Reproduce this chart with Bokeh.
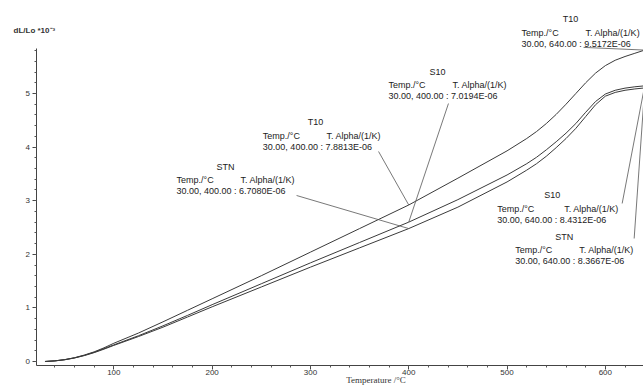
from bokeh.plotting import figure
from bokeh.models import Range1d, SingleIntervalTicker, Label, ColumnDataSource
from bokeh.core.properties import value
from bokeh.embed import file_html
from bokeh.resources import INLINE

# ---------------- data ----------------
temperature = [30, 40, 50, 60, 70, 80, 90, 100, 125, 150, 175, 200, 250, 300, 350, 400,
               450, 500, 520, 530, 540, 550, 560, 570, 580, 590, 600, 610, 620, 630, 640]
dl_T10 = [0.0, 0.012, 0.035, 0.07, 0.12, 0.18, 0.255, 0.34, 0.53, 0.74, 0.955, 1.17, 1.60,
          2.04, 2.48, 2.92, 3.42, 3.93, 4.16, 4.29, 4.44, 4.61, 4.80, 5.00, 5.20, 5.38,
          5.52, 5.62, 5.69, 5.75, 5.81]
dl_S10 = [0.0, 0.012, 0.034, 0.068, 0.115, 0.172, 0.24, 0.31, 0.48, 0.665, 0.86, 1.06, 1.45,
          1.84, 2.22, 2.60, 3.02, 3.48, 3.69, 3.81, 3.95, 4.10, 4.26, 4.44, 4.65, 4.85,
          4.99, 5.06, 5.10, 5.125, 5.143]
dl_STN = [0.0, 0.011, 0.032, 0.065, 0.11, 0.165, 0.23, 0.30, 0.465, 0.64, 0.83, 1.02, 1.39,
          1.76, 2.12, 2.48, 2.88, 3.35, 3.57, 3.69, 3.83, 3.99, 4.16, 4.35, 4.57, 4.79,
          4.95, 5.02, 5.06, 5.085, 5.104]
series = {"T10": dl_T10, "S10": dl_S10, "STN": dl_STN}

range_start = 30.00
alpha_400 = {"STN": "6.7080E-06", "T10": "7.8813E-06", "S10": "7.0194E-06"}
alpha_640 = {"T10": "9.5172E-06", "S10": "8.4312E-06", "STN": "8.3667E-06"}

y_label = "dL/Lo *10\u207b\u00b3"
x_label = "Temperature /\u00b0C"

# annotation layout (data units):
# (series, end T, left T, title T, column-2 T, title y, leader start T, leader start y)
annotations = [
    ("STN", 400, 163.8, 213.6, 228.9, 3.638, 285.9, 3.097),
    ("T10", 400, 251.6, 305.2, 316.4, 4.459, 369.3, 3.918),
    ("S10", 400, 379.4, 429.3, 444.5, 5.410, 440.4, 4.813),
    ("T10", 640, 514.8, 564.6, 579.9, 6.381, 577.8, 5.860),
    ("S10", 640, 490.0, 546.0, 558.2, 3.097, 617.1, 2.948),
    ("STN", 640, 508.3, 558.2, 573.5, 2.332, 629.3, 2.295),
]

# ---------------- figure ----------------
FONT = "Liberation Sans"
p = figure(width=643, height=385, output_backend="svg", toolbar_location=None,
           x_range=Range1d(-15.26, 638.8), y_range=Range1d(-0.4478, 6.735),
           min_border_left=0, min_border_right=0, min_border_top=0, min_border_bottom=0)
p.outline_line_color = None
p.xgrid.visible = False
p.ygrid.visible = False
p.background_fill_color = "white"
p.border_fill_color = "white"

xa = p.xaxis[0]
xa.ticker = SingleIntervalTicker(interval=100, num_minor_ticks=5)
xa.fixed_location = -0.0746
xa.bounds = (20.9, 638.8)
ya = p.yaxis[0]
ya.ticker = SingleIntervalTicker(interval=1, num_minor_ticks=5)
ya.fixed_location = 20.9
ya.bounds = (-0.0746, 5.84)
for ax in (xa, ya):
    ax.axis_line_color = "#444444"
    ax.major_tick_line_color = "#444444"
    ax.minor_tick_line_color = "#555555"
    ax.major_tick_out = 4
    ax.major_tick_in = 0
    ax.minor_tick_out = 2
    ax.minor_tick_in = 0
    ax.major_label_text_font = FONT
    ax.major_label_text_font_size = "8px"
    ax.major_label_text_color = "#333333"
xa.major_label_standoff = 1
ya.major_label_standoff = 2

for name in ["T10", "S10", "STN"]:
    p.line(temperature, series[name], line_color="#3a3a3a", line_width=1.0)

# annotation texts and leaders
tx, ty, tt, ta = [], [], [], []
lx0, ly0, lx1, ly1 = [], [], [], []
ROW1 = 13.5 / 53.6
ROW2 = 24.5 / 53.6
for name, t_end, left_t, title_t, col2_t, title_v, s_t, s_v in annotations:
    a = alpha_400[name] if t_end == 400 else alpha_640[name]
    tx += [title_t, left_t, col2_t, left_t]
    ty += [title_v, title_v - ROW1, title_v - ROW1, title_v - ROW2]
    tt += [name, "Temp./\u00b0C", "T. Alpha/(1/K)",
           f"{range_start:.2f}, {float(t_end):.2f} : {a}"]
    ta += ["center", "left", "left", "left"]
    idx = temperature.index(t_end)
    lx0.append(s_t); ly0.append(s_v)
    lx1.append(t_end); ly1.append(series[name][idx])

p.segment(x0=lx0, y0=ly0, x1=lx1, y1=ly1, line_color="#555555", line_width=0.8)
src = ColumnDataSource(dict(x=tx, y=ty, text=tt, align=ta))
p.text(x="x", y="y", text="text", text_align="align", source=src,
       text_font=value(FONT), text_font_size="9px", text_baseline="middle",
       text_color="#222222")

p.add_layout(Label(x=13, y=355, x_units="screen", y_units="screen", text=y_label,
                   text_font=FONT, text_font_size="8px", text_font_style="bold",
                   text_baseline="middle", text_color="#333333"))
p.add_layout(Label(x=375.5, y=5.5, x_units="screen", y_units="screen", text=x_label,
                   text_font="Liberation Serif", text_font_size="9px", text_align="center",
                   text_baseline="middle", text_color="#333333"))

open("out.html", "w").write(file_html(p, INLINE))
